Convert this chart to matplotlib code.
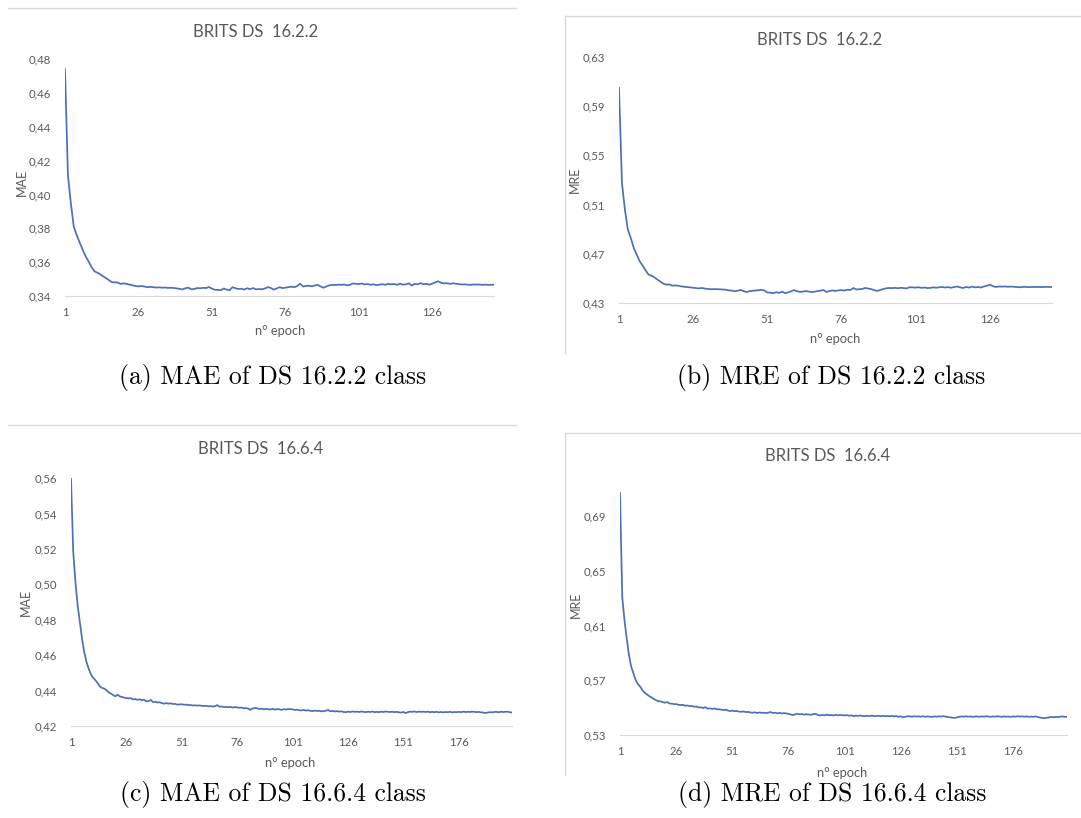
import matplotlib
matplotlib.use("Agg")
import matplotlib.pyplot as plt
from matplotlib.lines import Line2D
from matplotlib.ticker import FuncFormatter

W, H = 1081, 818

# MAE / MRE per epoch
mae_16_2_2 = [
    0.4740, 0.4114, 0.3946, 0.3808, 0.3759, 0.3715, 0.3674, 0.3635, 0.3605, 0.3572,
    0.3546, 0.3538, 0.3528, 0.3516, 0.3505, 0.3493, 0.3481, 0.3481, 0.3479, 0.3471,
    0.3475, 0.3471, 0.3467, 0.3463, 0.3459, 0.3457, 0.3459, 0.3456, 0.3452, 0.3454,
    0.3452, 0.3450, 0.3451, 0.3449, 0.3450, 0.3448, 0.3449, 0.3447, 0.3445, 0.3442,
    0.3439, 0.3446, 0.3449, 0.3440, 0.3441, 0.3447, 0.3446, 0.3448, 0.3447, 0.3453,
    0.3443, 0.3437, 0.3436, 0.3434, 0.3444, 0.3438, 0.3434, 0.3452, 0.3446, 0.3441,
    0.3443, 0.3438, 0.3446, 0.3440, 0.3447, 0.3439, 0.3441, 0.3440, 0.3444, 0.3452,
    0.3448, 0.3438, 0.3444, 0.3452, 0.3447, 0.3449, 0.3452, 0.3455, 0.3452, 0.3458,
    0.3473, 0.3456, 0.3459, 0.3461, 0.3457, 0.3462, 0.3466, 0.3456, 0.3449, 0.3457,
    0.3463, 0.3466, 0.3465, 0.3467, 0.3466, 0.3468, 0.3463, 0.3466, 0.3474, 0.3472,
    0.3470, 0.3474, 0.3468, 0.3471, 0.3466, 0.3469, 0.3464, 0.3467, 0.3470, 0.3466,
    0.3472, 0.3469, 0.3471, 0.3466, 0.3473, 0.3467, 0.3469, 0.3475, 0.3462, 0.3472,
    0.3469, 0.3476, 0.3470, 0.3472, 0.3467, 0.3473, 0.3480, 0.3487, 0.3478, 0.3474,
    0.3476, 0.3472, 0.3475, 0.3473, 0.3470, 0.3468, 0.3469, 0.3467, 0.3466, 0.3468,
    0.3467, 0.3468, 0.3466, 0.3467, 0.3466, 0.3466, 0.3466,
]

mre_16_2_2 = [
    0.6049, 0.5273, 0.5057, 0.4895, 0.4827, 0.4746, 0.4692, 0.4638, 0.4603, 0.4565,
    0.4530, 0.4522, 0.4508, 0.4489, 0.4473, 0.4457, 0.4449, 0.4451, 0.4441, 0.4443,
    0.4441, 0.4435, 0.4432, 0.4429, 0.4427, 0.4424, 0.4421, 0.4419, 0.4422, 0.4417,
    0.4414, 0.4412, 0.4413, 0.4412, 0.4411, 0.4410, 0.4408, 0.4403, 0.4401, 0.4395,
    0.4400, 0.4406, 0.4397, 0.4389, 0.4396, 0.4400, 0.4401, 0.4404, 0.4407, 0.4402,
    0.4386, 0.4384, 0.4380, 0.4388, 0.4382, 0.4393, 0.4380, 0.4386, 0.4395, 0.4405,
    0.4396, 0.4390, 0.4393, 0.4397, 0.4393, 0.4389, 0.4392, 0.4397, 0.4401, 0.4405,
    0.4389, 0.4398, 0.4402, 0.4398, 0.4403, 0.4405, 0.4401, 0.4408, 0.4405, 0.4422,
    0.4410, 0.4412, 0.4414, 0.4422, 0.4418, 0.4413, 0.4405, 0.4398, 0.4405, 0.4413,
    0.4419, 0.4422, 0.4421, 0.4423, 0.4420, 0.4424, 0.4421, 0.4419, 0.4428, 0.4427,
    0.4425, 0.4428, 0.4423, 0.4426, 0.4421, 0.4423, 0.4427, 0.4424, 0.4428, 0.4430,
    0.4426, 0.4429, 0.4424, 0.4430, 0.4434, 0.4427, 0.4422, 0.4431, 0.4425, 0.4433,
    0.4427, 0.4430, 0.4426, 0.4434, 0.4440, 0.4449, 0.4438, 0.4430, 0.4434, 0.4433,
    0.4435, 0.4432, 0.4434, 0.4432, 0.4430, 0.4428, 0.4430, 0.4431, 0.4429, 0.4430,
    0.4430, 0.4431, 0.4430, 0.4430, 0.4431, 0.4430, 0.4430,
]

mae_16_6_4 = [
    0.5600, 0.5185, 0.5014, 0.4881, 0.4786, 0.4691, 0.4615, 0.4561, 0.4523, 0.4491,
    0.4472, 0.4459, 0.4443, 0.4424, 0.4415, 0.4411, 0.4402, 0.4390, 0.4383, 0.4375,
    0.4367, 0.4377, 0.4367, 0.4364, 0.4360, 0.4358, 0.4356, 0.4357, 0.4350, 0.4352,
    0.4348, 0.4351, 0.4345, 0.4348, 0.4339, 0.4341, 0.4347, 0.4335, 0.4337, 0.4333,
    0.4334, 0.4329, 0.4326, 0.4329, 0.4326, 0.4328, 0.4324, 0.4325, 0.4321, 0.4322,
    0.4323, 0.4320, 0.4321, 0.4318, 0.4318, 0.4316, 0.4317, 0.4315, 0.4316, 0.4314,
    0.4313, 0.4314, 0.4311, 0.4312, 0.4310, 0.4312, 0.4318, 0.4309, 0.4310, 0.4307,
    0.4308, 0.4306, 0.4308, 0.4304, 0.4307, 0.4305, 0.4303, 0.4304, 0.4300, 0.4301,
    0.4298, 0.4291, 0.4299, 0.4302, 0.4300, 0.4296, 0.4298, 0.4294, 0.4297, 0.4295,
    0.4293, 0.4297, 0.4292, 0.4296, 0.4294, 0.4291, 0.4295, 0.4293, 0.4296, 0.4295,
    0.4294, 0.4290, 0.4292, 0.4289, 0.4288, 0.4291, 0.4287, 0.4289, 0.4286, 0.4284,
    0.4287, 0.4285, 0.4286, 0.4283, 0.4284, 0.4286, 0.4291, 0.4283, 0.4285, 0.4282,
    0.4284, 0.4281, 0.4283, 0.4279, 0.4278, 0.4281, 0.4279, 0.4282, 0.4280, 0.4281,
    0.4279, 0.4282, 0.4280, 0.4278, 0.4281, 0.4279, 0.4282, 0.4278, 0.4280, 0.4278,
    0.4281, 0.4279, 0.4282, 0.4280, 0.4279, 0.4281, 0.4278, 0.4280, 0.4277, 0.4276,
    0.4279, 0.4273, 0.4278, 0.4281, 0.4280, 0.4282, 0.4279, 0.4281, 0.4280, 0.4281,
    0.4279, 0.4281, 0.4278, 0.4280, 0.4278, 0.4280, 0.4277, 0.4279, 0.4277, 0.4279,
    0.4278, 0.4280, 0.4277, 0.4279, 0.4278, 0.4280, 0.4278, 0.4281, 0.4279, 0.4280,
    0.4279, 0.4281, 0.4280, 0.4278, 0.4280, 0.4277, 0.4276, 0.4273, 0.4276, 0.4278,
    0.4277, 0.4279, 0.4280, 0.4277, 0.4281, 0.4279, 0.4280, 0.4281, 0.4278, 0.4276,
]

mre_16_6_4 = [
    0.7070, 0.6310, 0.6139, 0.6005, 0.5884, 0.5799, 0.5750, 0.5701, 0.5672, 0.5653,
    0.5628, 0.5609, 0.5597, 0.5585, 0.5575, 0.5565, 0.5555, 0.5548, 0.5546, 0.5541,
    0.5536, 0.5541, 0.5531, 0.5529, 0.5526, 0.5526, 0.5521, 0.5519, 0.5521, 0.5514,
    0.5516, 0.5512, 0.5512, 0.5507, 0.5509, 0.5502, 0.5503, 0.5497, 0.5504, 0.5493,
    0.5495, 0.5491, 0.5494, 0.5489, 0.5488, 0.5486, 0.5483, 0.5485, 0.5479, 0.5475,
    0.5478, 0.5474, 0.5476, 0.5471, 0.5470, 0.5472, 0.5468, 0.5469, 0.5465, 0.5463,
    0.5466, 0.5461, 0.5465, 0.5462, 0.5463, 0.5460, 0.5464, 0.5468, 0.5461, 0.5463,
    0.5459, 0.5462, 0.5458, 0.5460, 0.5458, 0.5455, 0.5450, 0.5445, 0.5452, 0.5455,
    0.5451, 0.5454, 0.5449, 0.5452, 0.5450, 0.5448, 0.5453, 0.5455, 0.5447, 0.5443,
    0.5447, 0.5444, 0.5449, 0.5445, 0.5446, 0.5443, 0.5447, 0.5444, 0.5446, 0.5445,
    0.5443, 0.5446, 0.5441, 0.5444, 0.5438, 0.5442, 0.5440, 0.5443, 0.5439, 0.5438,
    0.5441, 0.5438, 0.5442, 0.5439, 0.5438, 0.5441, 0.5437, 0.5440, 0.5438, 0.5439,
    0.5437, 0.5440, 0.5436, 0.5439, 0.5433, 0.5437, 0.5429, 0.5434, 0.5437, 0.5436,
    0.5434, 0.5437, 0.5435, 0.5436, 0.5434, 0.5437, 0.5433, 0.5436, 0.5434, 0.5433,
    0.5436, 0.5434, 0.5437, 0.5435, 0.5438, 0.5434, 0.5432, 0.5429, 0.5427, 0.5425,
    0.5429, 0.5433, 0.5436, 0.5434, 0.5437, 0.5434, 0.5436, 0.5433, 0.5435, 0.5436,
    0.5433, 0.5436, 0.5434, 0.5437, 0.5435, 0.5433, 0.5436, 0.5434, 0.5437, 0.5435,
    0.5433, 0.5436, 0.5434, 0.5435, 0.5433, 0.5436, 0.5434, 0.5437, 0.5435, 0.5436,
    0.5434, 0.5436, 0.5433, 0.5435, 0.5433, 0.5436, 0.5431, 0.5428, 0.5425, 0.5423,
    0.5426, 0.5429, 0.5432, 0.5430, 0.5433, 0.5431, 0.5434, 0.5436, 0.5433, 0.5433,
]

xticks_150 = [1, 26, 51, 76, 101, 126]
xticks_200 = [1, 26, 51, 76, 101, 126, 151, 176]
yticks_a = [0.34, 0.36, 0.38, 0.40, 0.42, 0.44, 0.46, 0.48]
yticks_b = [0.43, 0.47, 0.51, 0.55, 0.59, 0.63]
yticks_c = [0.42, 0.44, 0.46, 0.48, 0.50, 0.52, 0.54, 0.56]
yticks_d = [0.53, 0.57, 0.61, 0.65, 0.69]

titles = ["BRITS DS  16.2.2", "BRITS DS  16.2.2", "BRITS DS  16.6.4", "BRITS DS  16.6.4"]
captions = ["(a) MAE of DS 16.2.2 class", "(b) MRE of DS 16.2.2 class",
            "(c) MAE of DS 16.6.4 class", "(d) MRE of DS 16.6.4 class"]

GRAY = '#595959'
LINE = '#4a70b6'
FONT = 'Lato'

fig = plt.figure(figsize=(W / 100, H / 100), dpi=100)


def rect(l, t, r, b):
    return [l / W, 1 - b / H, (r - l) / W, (b - t) / H]


def fig_line(x0, y0, x1, y1):
    fig.add_artist(Line2D([x0 / W, x1 / W], [1 - y0 / H, 1 - y1 / H],
                          color='#d9d9d9', lw=1, transform=fig.transFigure))


def put(x, y, s, **kw):
    fig.text(x / W, 1 - y / H, s, ha='center', va='center', **kw)


comma = FuncFormatter(lambda v, p: f"{v:.2f}".replace('.', ','))


def panel(box, values, xticks, yticks, ylim, title, ylabel, title_xy, ylab_xy, xlab_xy, cap_xy, caption):
    ax = fig.add_axes(rect(*box))
    epochs = range(1, len(values) + 1)
    ax.plot(epochs, values, color=LINE, lw=1.25, solid_joinstyle='round')
    ax.set_xlim(1, len(values))
    ax.set_ylim(*ylim)
    ax.set_xticks(xticks)
    ax.set_yticks(yticks)
    ax.yaxis.set_major_formatter(comma)
    for s in ['top', 'right', 'left']:
        ax.spines[s].set_visible(False)
    ax.spines['bottom'].set_color('#d9d9d9')
    ax.tick_params(length=0, labelsize=8.2, labelcolor=GRAY)
    ax.tick_params(axis='y', pad=10)
    ax.tick_params(axis='x', pad=8)
    for lab in ax.get_xticklabels() + ax.get_yticklabels():
        lab.set_fontfamily(FONT)
    ax.patch.set_alpha(0)
    put(*title_xy, title, fontsize=12, color=GRAY, family=FONT)
    put(*ylab_xy, ylabel, fontsize=9, color=GRAY, family=FONT, rotation=90)
    put(*xlab_xy, "n\u00b0 epoch", fontsize=9.3, color=GRAY, family=FONT)
    put(*cap_xy, caption, fontsize=18.5, color='black', family='cmr10')


# chart frames (light gray borders of the pasted Excel charts)
fig_line(8, 8, 516, 8)
fig_line(565, 16, 1081, 16)
fig_line(565, 16, 565, 353)
fig_line(8, 425, 516, 425)
fig_line(565, 433, 1081, 433)
fig_line(565, 433, 565, 775)

panel((65, 59, 494, 296), mae_16_2_2, xticks_150, yticks_a, (0.34, 0.48),
      titles[0], "MAE", (256, 32), (22, 182), (280, 331), (273, 378), captions[0])
panel((619, 57, 1052, 303), mre_16_2_2, xticks_150, yticks_b, (0.43, 0.63),
      titles[1], "MRE", (820, 40), (575, 180), (835, 339), (831, 378), captions[1])
panel((71, 478, 512, 726), mae_16_6_4, xticks_200, yticks_c, (0.42, 0.56),
      titles[2], "MAE", (261, 449), (26, 602), (290, 763), (273, 795), captions[2])
panel((620, 489, 1067, 735), mre_16_6_4, xticks_200, yticks_d, (0.53, 0.71),
      titles[3], "MRE", (828, 456), (576, 605), (842, 773), (832, 795), captions[3])

fig.savefig("out.png", dpi=100)
